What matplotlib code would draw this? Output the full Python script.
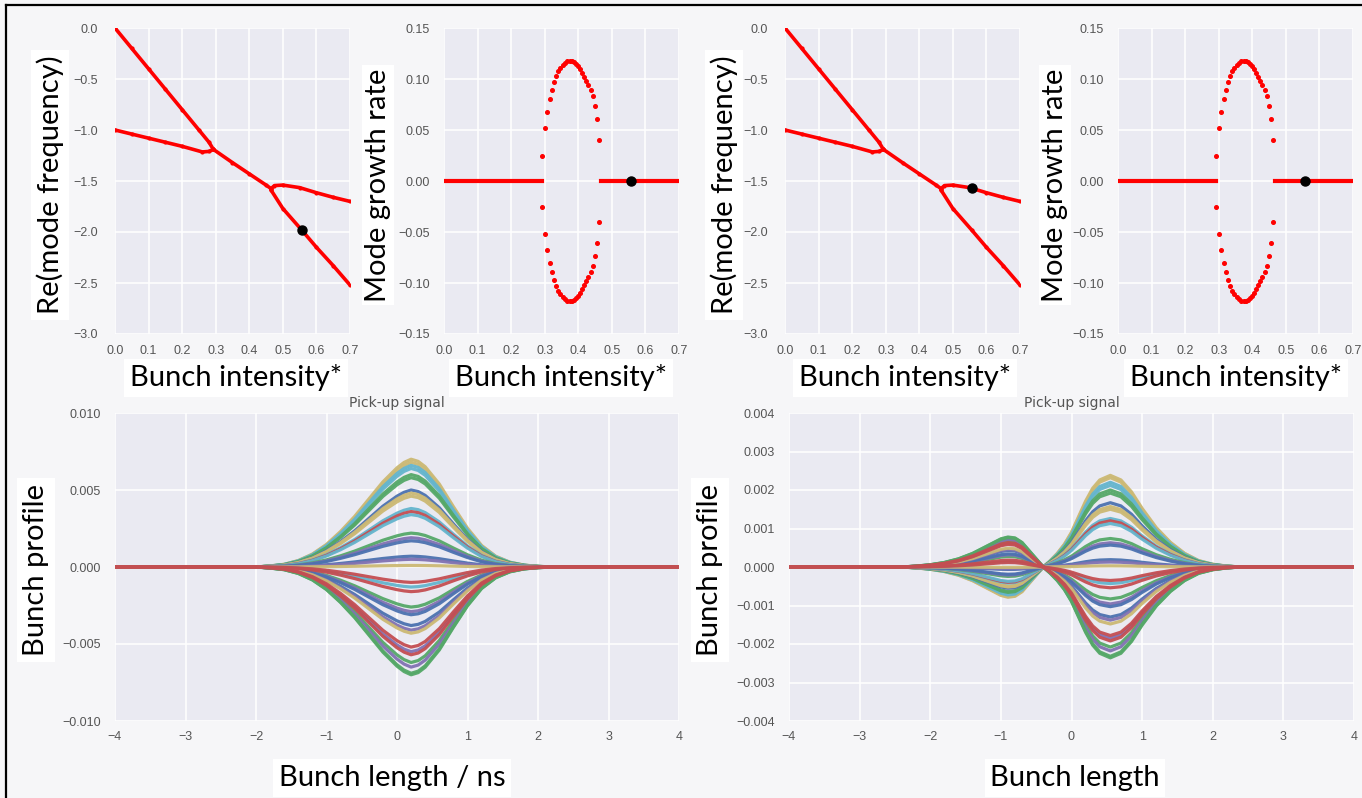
import numpy as np
import matplotlib.pyplot as plt
from matplotlib.lines import Line2D

# ---- data ----
# Re(mode frequency) vs bunch intensity (two panels use the same scan)
branch_a_x = [0.0, 0.05, 0.10, 0.15, 0.20, 0.25, 0.28, 0.293]
branch_a_y = [0.0, -0.20, -0.40, -0.60, -0.80, -1.00, -1.12, -1.19]
branch_b_x = [0.0, 0.05, 0.10, 0.15, 0.20, 0.26, 0.28, 0.293]
branch_b_y = [-1.0, -1.04, -1.08, -1.12, -1.16, -1.215, -1.21, -1.19]
merged_x = [0.293, 0.35, 0.40, 0.45, 0.465]
merged_y = [-1.19, -1.32, -1.43, -1.54, -1.575]
upper_x = [0.465, 0.475, 0.50, 0.55, 0.60, 0.65, 0.70]
upper_y = [-1.575, -1.545, -1.54, -1.565, -1.615, -1.66, -1.70]
lower_x = [0.465, 0.50, 0.556, 0.60, 0.65, 0.70]
lower_y = [-1.59, -1.77, -1.98, -2.15, -2.33, -2.52]

# Mode growth rate
stable_left_x = [0.0, 0.293]
stable_right_x = [0.468, 0.70]
ellipse_x = [0.292, 0.301, 0.307, 0.315, 0.322, 0.328, 0.335, 0.341, 0.347,
             0.353, 0.360, 0.367, 0.375, 0.382, 0.388, 0.394, 0.400, 0.406,
             0.412, 0.418, 0.424, 0.430, 0.437, 0.444, 0.450, 0.456, 0.463]
ellipse_up = [0.025, 0.052, 0.068, 0.080, 0.0895, 0.0967, 0.1026, 0.1075, 0.111,
              0.1137, 0.1157, 0.1173, 0.118, 0.118, 0.117, 0.115, 0.1124, 0.1098,
              0.1059, 0.102, 0.098, 0.094, 0.089, 0.083, 0.074, 0.061, 0.040]
ellipse_dn = [-0.025, -0.052, -0.068, -0.080, -0.0895, -0.0967, -0.1026, -0.1075, -0.111,
              -0.1137, -0.1157, -0.1173, -0.118, -0.118, -0.117, -0.115, -0.1124, -0.1098,
              -0.1059, -0.102, -0.098, -0.094, -0.089, -0.083, -0.074, -0.061, -0.040]

marker_left = (0.556, -1.98)
marker_right = (0.556, -1.565)
marker_growth = (0.556, 0.0)

# Bunch profiles (pick-up signal)
t_left = [-4.0, -2.0, -1.8, -1.6, -1.4, -1.2, -1.0, -0.8, -0.6, -0.4, -0.2, 0.0,
          0.1, 0.2, 0.3, 0.4, 0.6, 0.8, 1.0, 1.2, 1.4, 1.6, 1.8, 2.0, 2.2, 2.4, 4.0]
shape_left = [0.0, 0.0, 0.01, 0.025, 0.06, 0.12, 0.21, 0.33, 0.47, 0.63, 0.79, 0.92,
              0.97, 1.0, 0.98, 0.93, 0.77, 0.56, 0.36, 0.20, 0.10, 0.045, 0.018, 0.006,
              0.001, 0.0, 0.0]
t_right = [-4.0, -2.4, -2.2, -2.0, -1.8, -1.6, -1.4, -1.2, -1.0, -0.9, -0.8, -0.7,
           -0.6, -0.5, -0.4, -0.3, -0.2, -0.1, 0.0, 0.1, 0.2, 0.3, 0.4, 0.55, 0.7,
           0.85, 1.0, 1.2, 1.4, 1.6, 1.8, 2.0, 2.2, 2.4, 4.0]
shape_right = [0.0, 0.0, -0.01, -0.025, -0.05, -0.09, -0.15, -0.23, -0.31, -0.33, -0.32,
               -0.27, -0.18, -0.09, 0.0, 0.07, 0.15, 0.25, 0.38, 0.55, 0.72, 0.86, 0.95,
               1.0, 0.95, 0.82, 0.64, 0.43, 0.27, 0.15, 0.07, 0.03, 0.01, 0.0, 0.0]

B, G, R, P, Y, C = '#4C72B0', '#55A868', '#C44E52', '#8172B2', '#CCB974', '#64B5CD'
amp_left = [0.0070, 0.0068, 0.0066, 0.0064, 0.0060, 0.0058, 0.0050, 0.0048, 0.0046,
            0.0038, 0.0036, 0.0034, 0.0022, 0.0019, 0.0017, 0.0007, 0.0005, 0.0001,
            -0.0013, -0.0026, -0.0029, -0.0031, -0.0038, -0.0041, -0.0043, -0.0055,
            -0.0062, -0.0065, -0.0069, -0.0070, -0.0057, -0.0052, -0.0016, -0.0010]
amp_right = [0.00238, 0.00232, 0.00220, 0.00212, 0.00200, 0.00192, 0.00167, 0.00157, 0.00150,
             0.00126, 0.00120, 0.00113, 0.00074, 0.00063, 0.00057, 0.00019, 0.00013, 0.00003,
             -0.00043, -0.00083, -0.00096, -0.00103, -0.00130, -0.00138, -0.00148, -0.00185,
             -0.00208, -0.00218, -0.00232, -0.00236, -0.00192, -0.00178, -0.00054, -0.00035]
curve_colors = [Y, Y, C, C, G, G, B, Y, Y,
                C, R, C, G, P, B, B, P, Y,
                C, G, P, B, B, P, Y, P,
                G, P, G, G, R, R, R, R]

# ---- figure ----
W, H = 1362, 798
fig = plt.figure(figsize=(W / 100, H / 100), dpi=100, facecolor='#f6f6f8')


def box(left, top, right, bottom):
    return [left / W, 1 - bottom / H, (right - left) / W, (bottom - top) / H]


def style(ax):
    ax.set_facecolor('#EAEAF2')
    for s in ax.spines.values():
        s.set_visible(False)
    ax.grid(True, color='white', lw=1.1)
    ax.set_axisbelow(True)
    ax.tick_params(length=0, labelsize=9, labelcolor='#555555')
    for lab in ax.get_xticklabels() + ax.get_yticklabels():
        lab.set_family('Liberation Sans')


def label(x, y, text, rot=0, size=21, pad=4):
    fig.text(x / W, 1 - y / H, text, rotation=rot, ha='center', va='center',
             fontsize=size, family='Lato', color='black',
             bbox=dict(facecolor='white', edgecolor='none', pad=pad))


def freq_panel(rect, dot):
    ax = fig.add_axes(box(*rect))
    for xs, ys in [(branch_a_x, branch_a_y), (branch_b_x, branch_b_y),
                   (merged_x, merged_y), (upper_x, upper_y), (lower_x, lower_y)]:
        ax.plot(xs, ys, color='red', lw=2.6, marker='o', ms=2, solid_capstyle='round')
    ax.plot(*dot, 'o', color='black', ms=6.5, zorder=5)
    ax.set_xlim(0, 0.7)
    ax.set_ylim(-3.0, 0.0)
    ax.set_xticks(np.arange(0, 0.71, 0.1))
    ax.set_yticks(np.arange(-3.0, 0.01, 0.5))
    ax.xaxis.set_major_formatter('{x:.1f}')
    ax.yaxis.set_major_formatter('{x:.1f}')
    style(ax)
    ax.tick_params(axis='y', pad=12)
    ax.tick_params(axis='x', pad=8)
    return ax


def growth_panel(rect, dot):
    ax = fig.add_axes(box(*rect))
    ax.plot(stable_left_x, [0, 0], color='red', lw=3)
    ax.plot(stable_right_x, [0, 0], color='red', lw=3)
    ax.plot(ellipse_x, ellipse_up, 'o', color='red', ms=2.6)
    ax.plot(ellipse_x, ellipse_dn, 'o', color='red', ms=2.6)
    ax.plot(*dot, 'o', color='black', ms=6.5, zorder=5)
    ax.set_xlim(0, 0.7)
    ax.set_ylim(-0.15, 0.15)
    ax.set_xticks(np.arange(0, 0.71, 0.1))
    ax.set_yticks(np.arange(-0.15, 0.151, 0.05))
    ax.xaxis.set_major_formatter('{x:.1f}')
    ax.yaxis.set_major_formatter('{x:.2f}')
    style(ax)
    ax.tick_params(axis='y', pad=10)
    ax.tick_params(axis='x', pad=8)
    return ax


def profile_panel(rect, t, shape, amps, lim, step, fmt):
    ax = fig.add_axes(box(*rect))
    shape = np.array(shape)
    for a, c in zip(amps, curve_colors):
        ax.plot(t, a * shape, color=c, lw=2.3, alpha=0.95)
    ax.set_xlim(-4, 4)
    ax.set_ylim(-lim, lim)
    ax.set_xticks(range(-4, 5))
    ax.set_yticks(np.arange(-lim, lim + step / 2, step))
    ax.yaxis.set_major_formatter(fmt)
    ax.set_title('Pick-up signal', fontsize=10, color='#555555', pad=4)
    style(ax)
    ax.tick_params(axis='y', pad=10)
    ax.tick_params(axis='x', pad=7)
    return ax


freq_panel((115, 28, 350, 334), marker_left)
growth_panel((444, 28, 679, 334), marker_growth)
freq_panel((785, 28, 1020, 334), marker_right)
growth_panel((1118, 28, 1353, 334), marker_growth)
profile_panel((115, 413, 679, 721), t_left, shape_left, amp_left, 0.010, 0.005, '{x:.3f}')
profile_panel((789, 413, 1354, 721), t_right, shape_right, amp_right, 0.004, 0.001, '{x:.3f}')

# big overlaid labels
label(50, 185, 'Re(mode frequency)', rot=90)
label(378, 185, 'Mode growth rate', rot=90, pad=2)
label(724, 185, 'Re(mode frequency)', rot=90)
label(1055, 185, 'Mode growth rate', rot=90, pad=2)
label(236, 378, 'Bunch intensity*')
label(561, 378, 'Bunch intensity*')
label(905, 378, 'Bunch intensity*')
label(1236, 378, 'Bunch intensity*')
label(36, 570, 'Bunch profile', rot=90)
label(710, 570, 'Bunch profile', rot=90)
label(392, 778, 'Bunch length / ns')
label(1075, 778, 'Bunch length')

# frame lines (top and left)
fig.add_artist(Line2D([6 / W, 1], [1 - 5 / H, 1 - 5 / H], color='black', lw=1.6,
                      transform=fig.transFigure))
fig.add_artist(Line2D([6 / W, 6 / W], [0, 1 - 5 / H], color='black', lw=1.6,
                      transform=fig.transFigure))

fig.savefig('out.png', dpi=100, facecolor=fig.get_facecolor())
